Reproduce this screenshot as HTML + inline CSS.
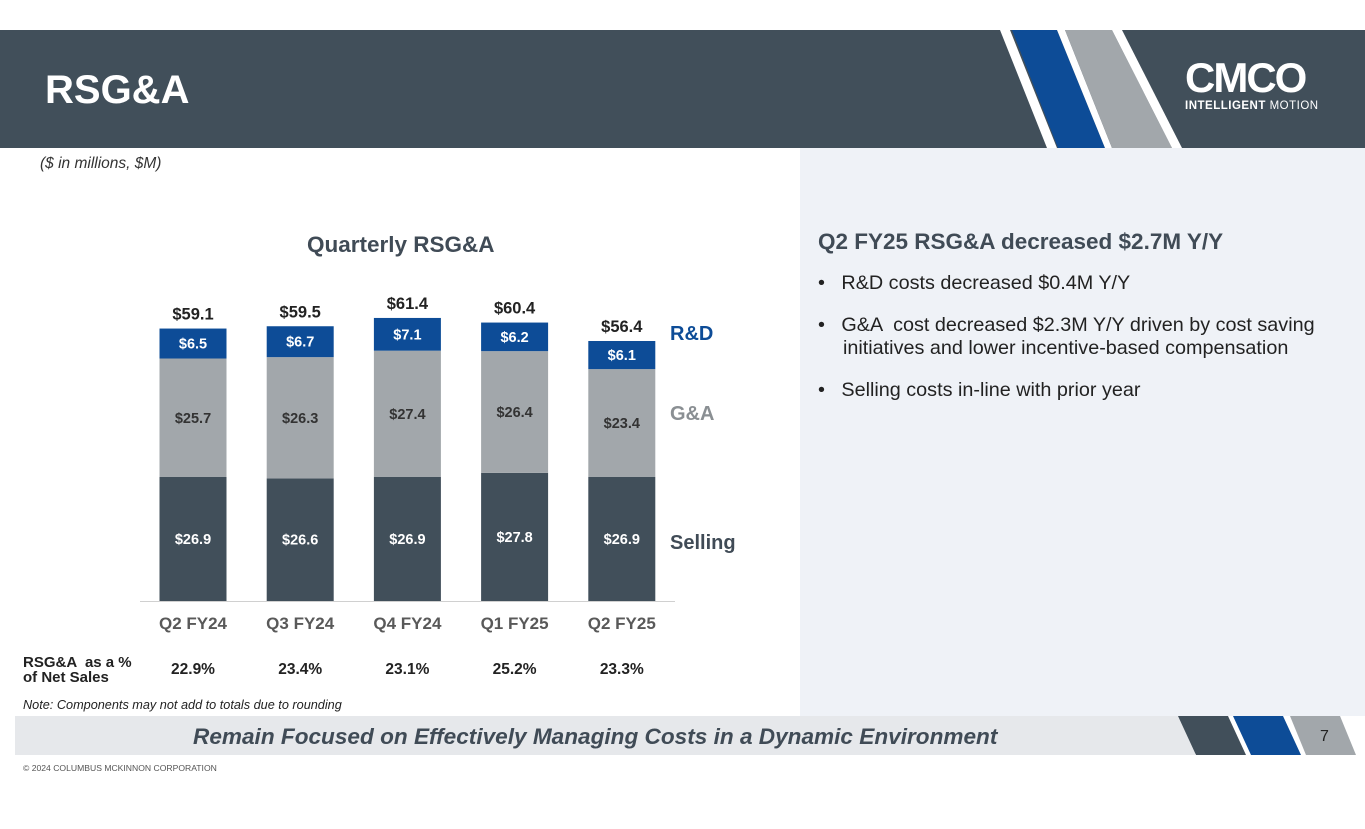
<!DOCTYPE html>
<html><head><meta charset="utf-8"><style>
body{margin:0;width:1365px;height:829px;background:#fff;position:relative;overflow:hidden;font-family:"Liberation Sans",Arial,sans-serif}
.a{position:absolute}
.b{padding-left:25px;text-indent:-25px;font-size:19.8px;margin-bottom:19px;line-height:23px}
</style></head><body>
<svg class="a" style="left:0;top:0" width="1365" height="829">
<rect x="0" y="30" width="1365" height="118" fill="#414f5a"/>
<polygon points="1000,30 1010,30 1057,148 1047,148" fill="#fff"/>
<polygon points="1012,30 1057,30 1105,148 1058,148" fill="#0d4c97"/>
<polygon points="1057,30 1065,30 1112,148 1105,148" fill="#fff"/>
<polygon points="1065,30 1112,30 1172,148 1112,148" fill="#a2a7ab"/>
<polygon points="1112,30 1122,30 1182,148 1172,148" fill="#fff"/>
<rect x="800" y="148" width="565" height="568" fill="#eff2f7"/>
<rect x="15" y="716" width="1180" height="39" fill="#e6e8eb"/>
<polygon points="1178,716 1228,716 1246,755 1196,755" fill="#414f5a"/>
<polygon points="1233,716 1283,716 1301,755 1251,755" fill="#0d4c97"/>
<polygon points="1290,716 1340,716 1356,755 1306,755" fill="#a2a7ab"/>
</svg>
<div class="a" style="left:45px;top:68px;font-size:40px;font-weight:bold;color:#fff">RSG&amp;A</div>
<div class="a" style="left:1185px;top:58px;color:#fff;text-align:left">
<div style="font-size:42px;font-weight:900;letter-spacing:-2px;line-height:40px">CMCO</div>
<div style="font-size:11.5px;letter-spacing:0.5px;margin-top:2px"><b>INTELLIGENT</b> MOTION</div></div>
<div class="a" style="left:40px;top:155px;font-size:15.5px;font-style:italic;color:#333">($ in millions, $M)</div>
<div class="a" style="left:307px;top:232px;font-size:22.5px;font-weight:bold;color:#404b56">Quarterly RSG&amp;A</div>
<svg id="chart" class="a" style="left:0;top:0" width="800" height="720"></svg>
<div class="a" style="left:23px;top:655px;font-size:15px;font-weight:bold;color:#222;line-height:15px">RSG&amp;A &nbsp;as a %<br>of Net Sales</div>
<div class="a" style="left:23px;top:698px;font-size:12.7px;font-style:italic;color:#222">Note: Components may not add to totals due to rounding</div>
<div class="a" style="left:818px;top:229px;color:#222;width:540px">
<div style="font-size:22.5px;font-weight:bold;color:#404b56;margin-bottom:17px">Q2 FY25 RSG&amp;A decreased $2.7M Y/Y</div>
<div class="b">•&nbsp;&nbsp; R&amp;D costs decreased $0.4M Y/Y</div>
<div class="b">•&nbsp;&nbsp; G&amp;A &nbsp;cost decreased $2.3M Y/Y driven by cost saving initiatives and lower incentive-based compensation</div>
<div class="b">•&nbsp;&nbsp; Selling costs in-line with prior year</div></div>
<div class="a" style="left:193px;top:724px;font-size:22.6px;font-weight:bold;font-style:italic;color:#404b56;white-space:nowrap">Remain Focused on Effectively Managing Costs in a Dynamic Environment</div>
<div class="a" style="left:1320px;top:728px;font-size:16px;color:#222">7</div>
<div class="a" style="left:23px;top:763px;font-size:8.6px;color:#555">© 2024 COLUMBUS MCKINNON CORPORATION</div>
<script>
const categories=["Q2 FY24","Q3 FY24","Q4 FY24","Q1 FY25","Q2 FY25"];
const selling=[26.9,26.6,26.9,27.8,26.9];
const gna=[25.7,26.3,27.4,26.4,23.4];
const rnd=[6.5,6.7,7.1,6.2,6.1];
const totals=[59.1,59.5,61.4,60.4,56.4];
const pct=["22.9%","23.4%","23.1%","25.2%","23.3%"];
const NS="http://www.w3.org/2000/svg",svg=document.getElementById('chart');
const base=601,k=4.61,bw=67;
const x=i=>193+i*107.2;
const y=v=>base-v*k;
function mk(t,a,txt){const e=document.createElementNS(NS,t);for(const n in a)e.setAttribute(n,a[n]);if(txt!=null)e.textContent=txt;svg.appendChild(e);return e;}
const ax=mk('line',{x1:140,x2:675,y1:base+0.5,y2:base+0.5,stroke:'#d0d0d0'});


const segs=[[selling,'#414f5a','#fff','selling'],[gna,'#a2a7ab','#333','gna'],[rnd,'#0d4c97','#fff','rnd']];
categories.forEach((c,i)=>{
 let acc=0;
 segs.forEach(([arr,col,tc,nm])=>{
  const v=arr[i],y0=y(acc),y1=y(acc+v);
  const r=mk('rect',{x:x(i)-bw/2,y:y1,width:bw,height:y0-y1,fill:col});
  
  
  const t=mk('text',{x:x(i),y:(y0+y1)/2+5,'text-anchor':'middle','font-size':14.5,'font-weight':'bold',fill:tc},'$'+v.toFixed(1));
  
  
  acc+=v;
 });
 const tt=mk('text',{x:x(i),y:y(totals[i])-9,'text-anchor':'middle','font-size':16.5,'font-weight':'bold',fill:'#222'},'$'+totals[i].toFixed(1));
 
 
 const cl=mk('text',{x:x(i),y:629,'text-anchor':'middle','font-size':17,'font-weight':'bold',fill:'#595959'},c);
 
 
 const pl=mk('text',{x:x(i),y:674,'text-anchor':'middle','font-size':15.5,'font-weight':'bold',fill:'#222'},pct[i]);
 
 
});
[["R&D",340,'#0d4c97'],["G&A",420,'#8a8f93'],["Selling",549,'#404b56']].forEach(([t,yy,c])=>{
 const e=mk('text',{x:670,y:yy,'font-size':20,'font-weight':'bold',fill:c},t);
 
 
});
</script>
</body></html>
